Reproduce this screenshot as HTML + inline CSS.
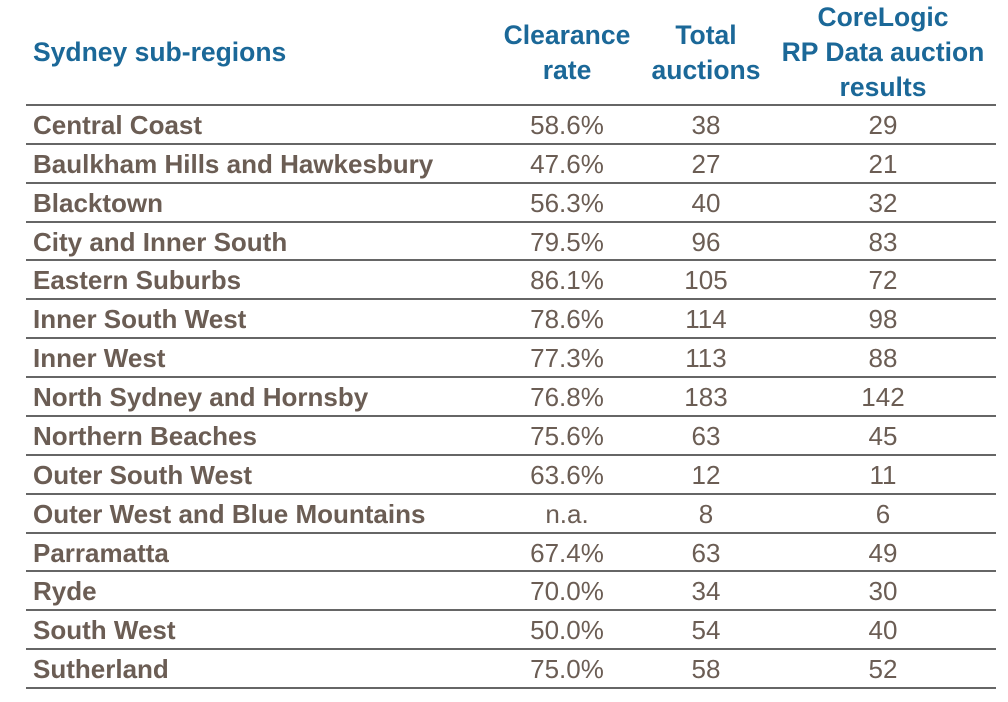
<!DOCTYPE html>
<html><head><meta charset="utf-8"><style>
body{margin:0;width:1008px;height:702px;background:#fff;position:relative;overflow:hidden;font-family:"Liberation Sans",Arial,sans-serif}
.h{position:absolute;color:#1b6898;font-weight:bold;font-size:26.5px;line-height:35px;text-align:center;white-space:nowrap}
.line{position:absolute;left:26px;width:970px;height:2px;background:#666}
.c{position:absolute;color:#6b5d54;font-size:26px;line-height:39px;white-space:nowrap}
.n{font-weight:bold;left:33px}
.v{text-align:center;width:160px}
</style></head><body>
<div class="h" style="left:33px;top:35px;text-align:left">Sydney sub-regions</div>
<div class="h" style="left:467px;top:18px;width:200px">Clearance<br>rate</div>
<div class="h" style="left:626px;top:18px;width:160px">Total<br>auctions</div>
<div class="h" style="left:763px;top:0px;width:240px">CoreLogic<br>RP Data auction<br>results</div>
<div id="tbl"></div>
<script>
const regions=["Central Coast","Baulkham Hills and Hawkesbury","Blacktown","City and Inner South","Eastern Suburbs","Inner South West","Inner West","North Sydney and Hornsby","Northern Beaches","Outer South West","Outer West and Blue Mountains","Parramatta","Ryde","South West","Sutherland"];
const clearance=["58.6%","47.6%","56.3%","79.5%","86.1%","78.6%","77.3%","76.8%","75.6%","63.6%","n.a.","67.4%","70.0%","50.0%","75.0%"];
const totals=[38,27,40,96,105,114,113,183,63,12,8,63,34,54,58];
const results=[29,21,32,83,72,98,88,142,45,11,6,49,30,40,52];
const top0=105,rh=38.87;
const t=document.getElementById('tbl');
function mk(cls,txt,left,top){const d=document.createElement('div');d.className=cls;d.textContent=txt;d.style.top=top+'px';if(left!==null)d.style.left=left+'px';t.appendChild(d);return d;}
const l0=mk('line','',null,top0-1);


regions.forEach((r,i)=>{
 const y=top0+i*rh;
 const a=mk('c n',r,null,y+1);
 
 
 const b=mk('c v',clearance[i],487,y+1);
 
 
 const c=mk('c v',String(totals[i]),626,y+1);
 
 
 const d=mk('c v',String(results[i]),803,y+1);
 
 
 const l=mk('line','',null,y+rh-1);
 
 
});
</script>
</body></html>
